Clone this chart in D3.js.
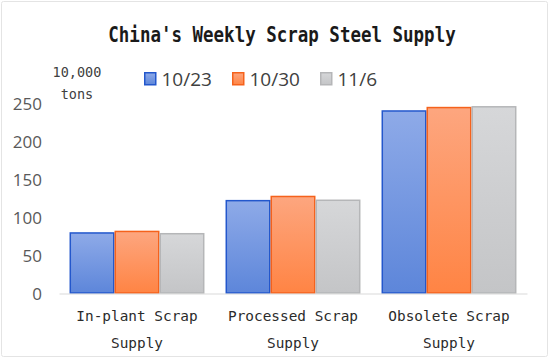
<!DOCTYPE html>
<html><head><meta charset="utf-8">
<script src="https://cdn.jsdelivr.net/npm/d3@7"></script>
<style>body{margin:0;background:#fff}</style>
</head><body>
<svg id="c" width="550" height="359"></svg>
<script>
const categories = ["In-plant Scrap Supply", "Processed Scrap Supply", "Obsolete Scrap Supply"];
const categoryLines = [["In-plant Scrap", "Supply"], ["Processed Scrap", "Supply"], ["Obsolete Scrap", "Supply"]];
const seriesNames = ["10/23", "10/30", "11/6"];
const s1023 = [79, 121.5, 239.5];
const s1030 = [81, 127, 244];
const s1106 = [78, 122, 245];
const yTicks = [0, 50, 100, 150, 200, 250];
const title = "China's Weekly Scrap Steel Supply";
const unitLines = ["10,000", "tons"];

const seriesValues = [s1023, s1030, s1106];
const colors = [
  {top: "#8eaae8", bot: "#5d86da", stroke: "#2357cc"},
  {top: "#fda67f", bot: "#ff8444", stroke: "#f5621c"},
  {top: "#d6d7d9", bot: "#c4c5c7", stroke: "#b5b6b8"}
];

const svg = d3.select("#c");
svg.append("rect").attr("x", 1.5).attr("y", 1.5).attr("width", 546).attr("height", 355)
  .attr("fill", "#fff").attr("stroke", "#e4e4e4").attr("rx", 2);

const defs = svg.append("defs");
colors.forEach((c, i) => {
  const g = defs.append("linearGradient").attr("id", "g" + i).attr("x1", 0).attr("y1", 0).attr("x2", 0).attr("y2", 1);
  g.append("stop").attr("offset", "0%").attr("stop-color", c.top);
  g.append("stop").attr("offset", "100%").attr("stop-color", c.bot);
});

const x0 = d3.scaleBand().domain(categories).range([59, 527]).paddingInner(0.135).paddingOuter(0.0675);
const x1 = d3.scaleBand().domain(seriesNames).range([0, x0.bandwidth()]);
const y = d3.scaleLinear().domain([0, 250]).range([293, 103]);

// title
svg.append("text").attr("text-anchor", "middle")
  .attr("transform", "translate(282,42) scale(1,1.2)")
  .attr("font-family", "DejaVu Sans Mono").attr("font-weight", "bold").attr("font-size", 17.5)
  .attr("fill", "#1a1a1a").text(title);

// unit
svg.selectAll(".unit").data(unitLines).join("text").attr("class", "unit")
  .attr("x", 77).attr("y", (d, i) => 77 + i * 22).attr("text-anchor", "middle")
  .attr("font-family", "DejaVu Sans Mono").attr("font-size", 13.5).attr("fill", "#404040").text(d => d);

// y axis labels
const yAxis = d3.axisLeft(y).tickValues(yTicks).tickSize(0).tickPadding(0);
const ya = svg.append("g").attr("transform", "translate(42,0)").call(yAxis);
ya.select(".domain").remove();
ya.selectAll("text").attr("font-family", "Open Sans").attr("font-size", 17).attr("fill", "#595959").attr("dy", "0.36em");

// bars
const groups = svg.selectAll(".grp").data(categories).join("g").attr("class", "grp")
  .attr("transform", d => `translate(${x0(d)},0)`);
groups.selectAll("rect").data((d, ci) => seriesNames.map((s, si) => ({s, si, v: seriesValues[si][ci]})))
  .join("rect")
  .attr("x", d => x1(d.s) + 0.75).attr("width", x1.bandwidth() - 1.5)
  .attr("y", d => y(d.v)).attr("height", d => y(0) - y(d.v))
  .attr("fill", d => `url(#g${d.si})`).attr("stroke", d => colors[d.si].stroke).attr("stroke-width", 1.5);

// x axis line
const xAxis = d3.axisBottom(x0).tickSize(0).tickFormat("");
const xa = svg.append("g").attr("transform", "translate(0,293.5)").call(xAxis);
xa.select(".domain").attr("stroke", "#d9d9d9").attr("stroke-width", 1.2);

// x labels
categories.forEach((c, i) => {
  const cx = x0(c) + x0.bandwidth() / 2;
  const t = svg.append("text").attr("text-anchor", "middle").attr("font-family", "DejaVu Sans Mono")
    .attr("font-size", 14.4).attr("fill", "#2b2b2b");
  categoryLines[i].forEach((line, li) => {
    t.append("tspan").attr("x", cx).attr("y", 321 + li * 26.5).text(line);
  });
});

// legend
const legX = [144, 232, 320];
const lg = svg.selectAll(".leg").data(seriesNames).join("g").attr("class", "leg")
  .attr("transform", (d, i) => `translate(${legX[i]},72)`);
lg.append("rect").attr("x", 0.75).attr("y", 0.75).attr("width", 11).attr("height", 12)
  .attr("fill", (d, i) => `url(#g${i})`).attr("stroke", (d, i) => colors[i].stroke).attr("stroke-width", 1.5);
lg.append("text").attr("x", 17.5).attr("y", 14).attr("font-family", "Open Sans").attr("font-size", 19)
  .attr("fill", "#404040").text(d => d);
</script>
</body></html>
